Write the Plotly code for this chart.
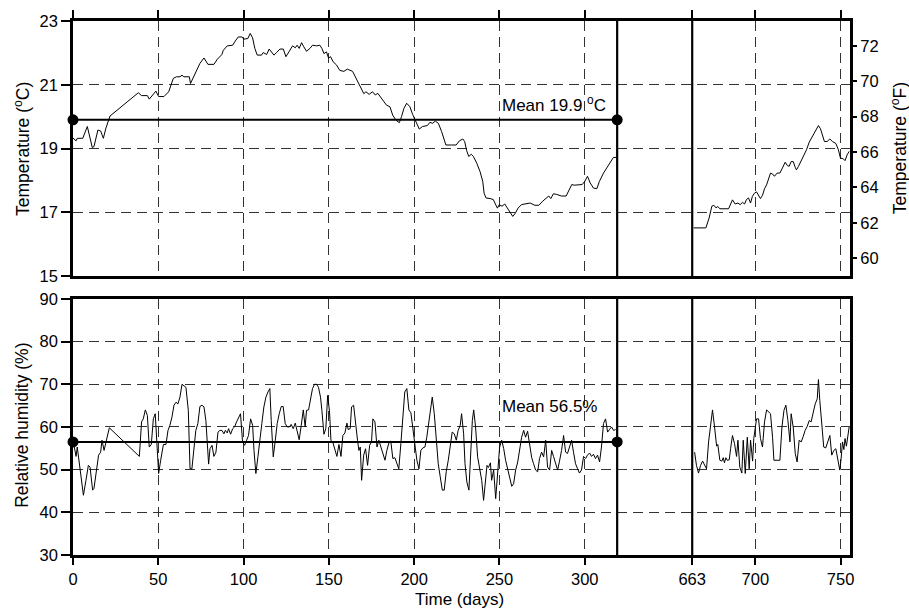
import plotly.graph_objects as go

# ---------------- data ----------------
temp_days_a = [0, 1.8, 2.5, 5.7, 8.4, 10, 11.3, 12.3, 14.6, 16.2, 17.8, 19.3, 21.7, 38.3, 40.2, 43.6, 44.7, 48.6, 50.2,
               53.3, 56.1, 58.8, 60.7, 62.7, 63.9, 65, 68.2, 68.9, 72.1, 74.4, 76.8, 79.1, 82.6, 84.6, 87.3, 88.1, 90.4,
               93.6, 95.1, 96.9, 99, 100.2, 102.5, 103.9, 105.3, 106.6, 108, 110.5, 111.5, 113.5, 115, 116.4, 117.8,
               119.3, 121.3, 123.3, 124.8, 126.8, 128.7, 130.3, 131.4, 132.6, 134, 135.3, 136.9, 138.9, 140.4, 142.8,
               144.7, 145.9, 147.1, 148.6, 149.8, 151, 152.5, 154.5, 156.4, 158.8, 160.8, 163.9, 165, 166.6, 168.2,
               169.3, 170.5, 171.7, 173.6, 175.6, 177.2, 178.7, 180.7, 182.2, 183.8, 185.8, 187.4, 189.3, 191.3, 192.6,
               194, 195.6, 197.5, 199.1, 201, 203, 204.9, 207.7, 209.2, 210.8, 212.4, 214.2, 216.1, 218.6, 221.8,
               224.6, 226.5, 228.5, 229.6, 230.8, 232, 233.5, 234.7, 236.7, 238.6, 240.2, 241, 242.1, 244.5, 246.4,
               247.6, 248.8, 249.9, 251.5, 253.1, 254.6, 256.2, 257.8, 259.3, 260.9, 262.9, 265.2, 268, 270.7, 273.1,
               275.4, 277.4, 278.9, 280.1, 281.6, 283.6, 286.3, 289.1, 291.1, 292.4, 293.8, 296.9, 298.5, 300, 301.6,
               303.2, 305.1, 307.1, 308.6, 311, 312.9, 314.9, 316.8, 318.4]
temp_vals_a = [19.33, 19.24, 19.32, 19.32, 19.69, 19.32, 19.03, 19.06, 19.58, 19.55, 19.32, 19.64, 20.02, 20.75, 20.66,
               20.66, 20.55, 20.80, 20.63, 20.63, 20.78, 21.20, 21.25, 21.25, 21.30, 21.25, 21.25, 21.04, 21.43, 21.67,
               21.84, 21.64, 21.64, 21.80, 21.95, 22.08, 22.22, 22.24, 22.37, 22.50, 22.50, 22.43, 22.45, 22.61, 22.47,
               22.14, 21.93, 21.93, 22.01, 21.95, 22.12, 22.03, 21.93, 22.01, 22.12, 22.12, 21.88, 22.05, 22.22, 22.16,
               22.24, 22.14, 22.32, 22.19, 22.05, 22.14, 22.24, 22.22, 22.24, 22.14, 21.98, 22.03, 21.84, 21.88, 21.72,
               21.62, 21.45, 21.42, 21.49, 21.42, 21.30, 21.11, 20.93, 20.82, 20.72, 20.78, 20.70, 20.78, 20.68, 20.73,
               20.57, 20.47, 20.36, 20.31, 20.05, 19.89, 19.81, 20.00, 20.26, 20.42, 20.31, 20.07, 19.86, 19.61, 19.69,
               19.72, 19.82, 19.79, 19.86, 19.79, 19.53, 19.11, 19.11, 19.11, 19.24, 19.30, 19.22, 18.93, 18.75, 18.82,
               18.75, 18.54, 18.28, 17.97, 17.60, 17.45, 17.43, 17.40, 17.26, 17.13, 17.24, 17.19, 17.26, 17.13, 17.03,
               16.87, 16.97, 17.13, 17.24, 17.26, 17.29, 17.22, 17.22, 17.35, 17.45, 17.51, 17.43, 17.58, 17.56, 17.51,
               17.51, 17.71, 17.87, 17.85, 17.85, 17.87, 17.97, 18.13, 17.92, 17.76, 17.74, 17.97, 18.23, 18.39, 18.60,
               18.72, 18.72]

temp_days_b = [663.8, 665.7, 671, 672.9, 674.5, 675.7, 676.9, 678, 679.2, 684.3, 685.5, 686.6, 688.2, 689.8, 691.1,
               692.5, 693.7, 694.8, 696, 697.2, 698.3, 699.5, 700.7, 701.9, 703, 704.2, 705.4, 706.6, 707.7, 708.9,
               710.1, 711.2, 712.8, 714.4, 715.9, 717.5, 718.7, 719.8, 721, 722.2, 723.4, 724.1, 725.3, 726.9, 728.4,
               730, 731.6, 733.1, 734.7, 735.9, 737, 738.2, 739.4, 740.5, 742.1, 743.7, 745.2, 747.2, 748.7, 749.9,
               751.5, 752.6, 753.8, 755]
temp_vals_b = [16.51, 16.51, 16.51, 16.82, 17.19, 17.22, 17.14, 17.18, 17.11, 17.11, 17.24, 17.39, 17.26, 17.29, 17.24,
               17.31, 17.26, 17.40, 17.45, 17.29, 17.50, 17.60, 17.64, 17.55, 17.43, 17.53, 17.74, 17.86, 18.02, 18.23,
               18.20, 18.13, 18.23, 18.23, 18.39, 18.57, 18.47, 18.44, 18.59, 18.59, 18.41, 18.33, 18.44, 18.62, 18.80,
               18.96, 19.20, 19.35, 19.51, 19.64, 19.72, 19.62, 19.43, 19.22, 19.22, 19.30, 19.22, 19.16, 18.96, 18.70,
               18.68, 18.62, 18.80, 18.91]

hum_days_a = [0.2, 1.8, 2.5, 4.1, 6.1, 7.6, 9, 10, 11.5, 12.3, 13.9, 15, 16.2, 17, 18.2, 19.7, 21.3, 38.9, 40.2, 41.2,
              42.4, 43.6, 44.7, 45.9, 47.1, 48.2, 49.4, 50.2, 51.4, 53, 54.5, 55.7, 56.8, 58, 59.2, 60.4, 61.5, 62.7,
              63.9, 65, 66.2, 67.6, 68.6, 69.7, 70.9, 72, 73.2, 74.4, 75.6, 76.8, 77.9, 78.7, 79.5, 80.3, 81.5, 82.6,
              83.8, 85, 86.1, 87.3, 88.5, 89.3, 90.4, 91.2, 92.4, 93.6, 94.7, 95.9, 97.1, 98.2, 99.4, 100.6, 101.8,
              102.9, 104.1, 105.3, 106.1, 107.2, 108.4, 109.6, 110.7, 111.9, 113.1, 114.3, 115.4, 116.2, 117.4, 118.6,
              119.7, 120.9, 122.1, 123.2, 124.4, 125.6, 126.8, 127.9, 129.1, 130.3, 131.4, 132.6, 133.8, 135, 136.1,
              136.9, 138.1, 139.3, 140.4, 141.6, 142.8, 143.9, 145.1, 145.9, 147.1, 148.2, 149.3, 150.4, 151.2, 152.4,
              153.5, 154.7, 155.9, 157.1, 158.2, 159.4, 160.6, 161.3, 162.5, 163.3, 164.5, 165.7, 166.8, 167.6, 168.4,
              169.2, 170.4, 171.5, 172.7, 173.9, 175, 175.8, 177, 178.2, 179.3, 180.5, 181.7, 182.9, 184, 185.2, 186.3,
              187.5, 188.7, 189.9, 191, 192.2, 193.4, 194.5, 195.7, 196.9, 198.1, 199.2, 200.4, 201.6, 202.8, 203.9,
              205.1, 206.3, 207.4, 208.6, 209.8, 210.6, 211.8, 212.9, 214.1, 215.3, 216.5, 217.6, 218.8, 220, 221.1,
              222.3, 223.5, 224.7, 225.8, 227, 227.8, 229, 229.8, 230.9, 232.1, 232.9, 234.1, 234.9, 236, 237.2, 238.4,
              239.6, 240.7, 241.5, 242.7, 243.5, 244.7, 245.4, 246.6, 247.8, 249, 250.1, 251.3, 252.5, 253.6, 254.8,
              256, 257.2, 258.3, 259.5, 260.7, 261.8, 263, 264.2, 265.3, 266.5, 267.7, 268.9, 270, 271.2, 272.4, 273.5,
              274.7, 275.9, 277.1, 278.2, 279.4, 280.6, 281.7, 282.9, 284.1, 285.2, 286.4, 287.6, 288.8, 289.9, 291.1,
              292.3, 293.4, 294.6, 295.8, 296.9, 298.1, 299.3, 300.5, 301.6, 302.8, 304, 305.1, 306.3, 307.5, 308.7,
              309.8, 311, 312.2, 313.4, 314.5, 315.7, 316.9, 318.1]
hum_vals_a = [56.5, 53.1, 55.3, 50.6, 44.0, 47.5, 51.0, 50.6, 45.2, 45.6, 50.6, 53.4, 54.1, 56.9, 54.5, 57.3, 59.8, 53.1,
              61.2, 61.9, 64.0, 62.7, 55.3, 55.9, 61.9, 63.1, 54.9, 49.1, 52.2, 55.9, 55.9, 59.2, 60.4, 62.3, 65.1,
              65.8, 65.4, 67.0, 70.0, 69.7, 69.3, 63.9, 50.2, 50.2, 54.5, 59.2, 60.8, 64.8, 65.1, 64.7, 61.5, 56.5,
              51.3, 54.9, 55.7, 53.1, 54.1, 58.8, 59.2, 59.2, 58.4, 59.2, 58.6, 59.6, 58.3, 59.6, 60.0, 61.2, 62.3,
              63.1, 56.5, 55.7, 56.9, 58.0, 61.9, 60.4, 54.5, 49.1, 53.0, 56.5, 60.8, 64.7, 67.0, 68.2, 69.0, 61.5,
              53.0, 56.9, 60.8, 63.1, 64.8, 64.8, 60.8, 60.0, 60.0, 60.6, 59.6, 60.9, 59.2, 57.0, 60.4, 64.0, 60.0,
              63.9, 64.0, 66.6, 69.0, 70.0, 70.0, 69.3, 67.0, 63.9, 58.3, 59.6, 67.4, 63.5, 56.9, 56.3, 54.9, 53.1,
              55.9, 53.1, 58.0, 58.6, 60.9, 59.4, 59.6, 64.7, 65.1, 60.0, 56.9, 54.5, 55.3, 47.5, 53.4, 54.9, 51.0,
              55.7, 56.5, 61.9, 61.2, 55.3, 56.9, 55.3, 53.6, 52.2, 54.5, 56.3, 56.7, 52.6, 52.8, 51.4, 50.2, 56.1,
              62.3, 68.2, 69.0, 64.0, 63.3, 59.6, 56.1, 52.2, 50.2, 54.5, 55.1, 55.3, 57.6, 60.8, 64.3, 67.0, 63.1,
              57.6, 51.4, 48.3, 45.2, 45.2, 49.5, 52.2, 54.9, 58.8, 58.4, 56.9, 59.2, 60.4, 63.1, 58.4, 51.4, 47.1,
              45.2, 51.0, 61.5, 64.0, 60.0, 53.0, 50.6, 47.5, 42.8, 46.0, 51.0, 50.5, 51.6, 47.5, 49.9, 43.2, 49.1,
              55.3, 56.9, 54.9, 52.2, 49.9, 48.3, 46.1, 46.7, 49.9, 51.8, 54.5, 57.6, 59.2, 57.6, 59.0, 55.9, 52.8,
              51.4, 49.9, 49.5, 52.6, 54.1, 53.0, 56.9, 50.6, 49.9, 54.5, 53.1, 51.4, 49.9, 52.0, 54.5, 58.0, 54.1,
              53.8, 55.3, 56.9, 54.1, 51.4, 50.2, 49.2, 49.9, 53.1, 52.6, 53.4, 53.9, 53.1, 53.6, 52.6, 53.4, 51.8,
              55.3, 60.8, 61.9, 58.8, 59.4, 60.0, 59.2, 59.4]

hum_days_b = [664.4, 665.5, 666.7, 667.9, 669.1, 670.2, 671.4, 672.6, 673.7, 674.9, 676.1, 677.3, 678, 679.2, 680.4,
              681.2, 681.9, 682.7, 683.5, 684.7, 685.5, 686.6, 687.8, 689, 689.8, 690.9, 692.1, 692.9, 694.1, 695.3,
              696.4, 697.2, 698.4, 699.1, 699.9, 700.7, 701.9, 703, 704.2, 705.4, 706.6, 707.7, 708.9, 710.1, 710.9,
              714.4, 715.6, 716.8, 717.9, 719.1, 720.3, 721, 722.2, 723.4, 724.5, 725.7, 726.9, 728.1, 729.2, 730.4,
              731.6, 732.7, 733.9, 735.1, 736.3, 737, 737.8, 739, 740.1, 741.3, 742.5, 743.7, 744.8, 746, 747.2, 748.4,
              749.5, 750.3, 751.1, 751.9, 752.6, 753.4, 754.2, 755]
hum_vals_b = [54.1, 51.0, 49.2, 51.0, 52.0, 51.0, 50.2, 56.5, 60.8, 64.0, 60.0, 55.5, 55.9, 52.2, 52.0, 52.8, 51.6, 52.8,
              52.2, 52.3, 54.9, 58.0, 56.1, 53.1, 56.9, 50.6, 49.2, 56.9, 49.1, 57.6, 50.2, 56.9, 52.0, 57.3, 59.6,
              61.9, 61.9, 57.3, 55.3, 61.2, 64.0, 63.5, 63.1, 57.6, 52.2, 52.2, 60.0, 63.9, 65.1, 61.5, 56.5, 63.1,
              60.0, 53.8, 51.8, 56.9, 56.5, 57.8, 59.2, 60.1, 61.5, 61.2, 63.5, 65.4, 66.6, 71.1, 66.2, 61.2, 55.3,
              55.1, 56.5, 58.0, 53.4, 54.5, 54.9, 52.2, 49.9, 52.6, 56.5, 54.7, 57.3, 55.5, 58.4, 60.0]

temp_mean = 19.9
hum_mean = 56.5
mean_span = [0, 319]

x_tick_days = [0, 50, 100, 150, 200, 250, 300, 663, 700, 750]
x_tick_text = ["0", "50", "100", "150", "200", "250", "300", "663", "700", "750"]
temp_c_ticks = [15, 17, 19, 21, 23]
temp_f_ticks = [60, 62, 64, 66, 68, 70, 72]
hum_ticks = [30, 40, 50, 60, 70, 80, 90]

# ---------------- broken-axis mapping ----------------
BREAK_START = 319   # last day of first segment
RESUME_DAY = 663    # first day of second segment
GAP = 44            # visual gap width (in day units)
OFFSET = RESUME_DAY - BREAK_START - GAP


def mp(days):
    return [d if d <= BREAK_START else d - OFFSET for d in days]


X_MAX = 755.5 - OFFSET

FONT = "Liberation Sans, Arial, Helvetica, sans-serif"
GRID = dict(showgrid=True, gridcolor="#333333", gridwidth=1, griddash="10px,6px")
LINE = dict(showline=True, linecolor="black", linewidth=2.5, mirror=True, zeroline=False)
TICKFONT = dict(family=FONT, size=16.5, color="black")

fig = go.Figure()

line_style = dict(color="black", width=1)
fig.add_trace(go.Scatter(x=mp(temp_days_a), y=temp_vals_a, mode="lines", line=line_style,
                         xaxis="x", yaxis="y", showlegend=False))
fig.add_trace(go.Scatter(x=mp(temp_days_b), y=temp_vals_b, mode="lines", line=line_style,
                         xaxis="x", yaxis="y", showlegend=False))
fig.add_trace(go.Scatter(x=mp(hum_days_a), y=hum_vals_a, mode="lines", line=line_style,
                         xaxis="x2", yaxis="y2", showlegend=False))
fig.add_trace(go.Scatter(x=mp(hum_days_b), y=hum_vals_b, mode="lines", line=line_style,
                         xaxis="x2", yaxis="y2", showlegend=False))

# mean lines with end dots
fig.add_trace(go.Scatter(x=mp(mean_span), y=[temp_mean, temp_mean], mode="lines+markers",
                         line=dict(color="black", width=2), marker=dict(color="black", size=11),
                         xaxis="x", yaxis="y", showlegend=False, cliponaxis=False))
fig.add_trace(go.Scatter(x=mp(mean_span), y=[hum_mean, hum_mean], mode="lines+markers",
                         line=dict(color="black", width=2), marker=dict(color="black", size=11),
                         xaxis="x2", yaxis="y2", showlegend=False, cliponaxis=False))

# dummy trace for Fahrenheit axis
fig.add_trace(go.Scatter(x=[None], y=[None], xaxis="x", yaxis="y3", showlegend=False))

tickvals_mapped = mp(x_tick_days)

TOP_DOMAIN = [0.5224, 1.0]
BOT_DOMAIN = [0.0, 0.4795]

fig.update_layout(
    width=909, height=611,
    margin=dict(l=73, r=59, t=19, b=56),
    paper_bgcolor="white", plot_bgcolor="white",
    font=dict(family=FONT, size=16, color="black"),
    xaxis=dict(domain=[0, 1], anchor="y", range=[0, X_MAX], side="top",
               tickvals=tickvals_mapped, showticklabels=False,
               ticks="outside", ticklen=8, tickwidth=1.5, tickcolor="black", **GRID, **LINE),
    yaxis=dict(domain=TOP_DOMAIN, anchor="x", range=[15, 23], tickvals=temp_c_ticks, tickfont=TICKFONT,
               ticks="outside", ticklen=9, tickwidth=1.5, tickcolor="black", **GRID, **LINE),
    yaxis3=dict(overlaying="y", side="right", anchor="x", range=[59, 73.4], tickvals=temp_f_ticks,
                tickfont=TICKFONT, ticks="outside", ticklen=6, tickwidth=1.5, tickcolor="black",
                showgrid=False, showline=False, zeroline=False),
    xaxis2=dict(domain=[0, 1], anchor="y2", range=[0, X_MAX], side="bottom",
                tickvals=tickvals_mapped, ticktext=x_tick_text, tickfont=TICKFONT,
                ticks="outside", ticklen=7, tickwidth=1.5, tickcolor="black", **GRID, **LINE),
    yaxis2=dict(domain=BOT_DOMAIN, anchor="x2", range=[30, 90], tickvals=hum_ticks, tickfont=TICKFONT,
                ticks="outside", ticklen=9, tickwidth=1.5, tickcolor="black", **GRID, **LINE),
)

# axis break lines
for xv in [BREAK_START, RESUME_DAY - OFFSET]:
    fig.add_shape(type="line", xref="x", yref="y", x0=xv, x1=xv, y0=15, y1=23,
                  line=dict(color="black", width=2.2), layer="above")
    fig.add_shape(type="line", xref="x2", yref="y2", x0=xv, x1=xv, y0=30, y1=90,
                  line=dict(color="black", width=2.2), layer="above")

# mean labels
fig.add_annotation(x=250.2, y=20.4, xref="x", yref="y", xanchor="left", yanchor="middle",
                   text="Mean 19.9&nbsp;<sup>o</sup>C", showarrow=False, font=dict(family=FONT, size=17))
fig.add_annotation(x=250.2, y=64.7, xref="x2", yref="y2", xanchor="left", yanchor="middle",
                   text="Mean 56.5%", showarrow=False, font=dict(family=FONT, size=17))

# axis titles
TITLEFONT = dict(family=FONT, size=17.5, color="black")
fig.add_annotation(x=-0.0665, y=0.761, xref="paper", yref="paper", textangle=-90,
                   xanchor="center", yanchor="middle", showarrow=False,
                   text="Temperature (<sup>o</sup>C)", font=TITLEFONT)
fig.add_annotation(x=-0.0665, y=0.2425, xref="paper", yref="paper", textangle=-90,
                   xanchor="center", yanchor="middle", showarrow=False,
                   text="Relative humidity (%)", font=TITLEFONT)
fig.add_annotation(x=1.0625, y=0.761, xref="paper", yref="paper", textangle=-90,
                   xanchor="center", yanchor="middle", showarrow=False,
                   text="Temperature (<sup>o</sup>F)", font=TITLEFONT)
fig.add_annotation(x=0.497, y=-0.084, xref="paper", yref="paper",
                   xanchor="center", yanchor="middle", showarrow=False,
                   text="Time (days)", font=dict(family=FONT, size=17, color="black"))

fig.write_html("out.html")
